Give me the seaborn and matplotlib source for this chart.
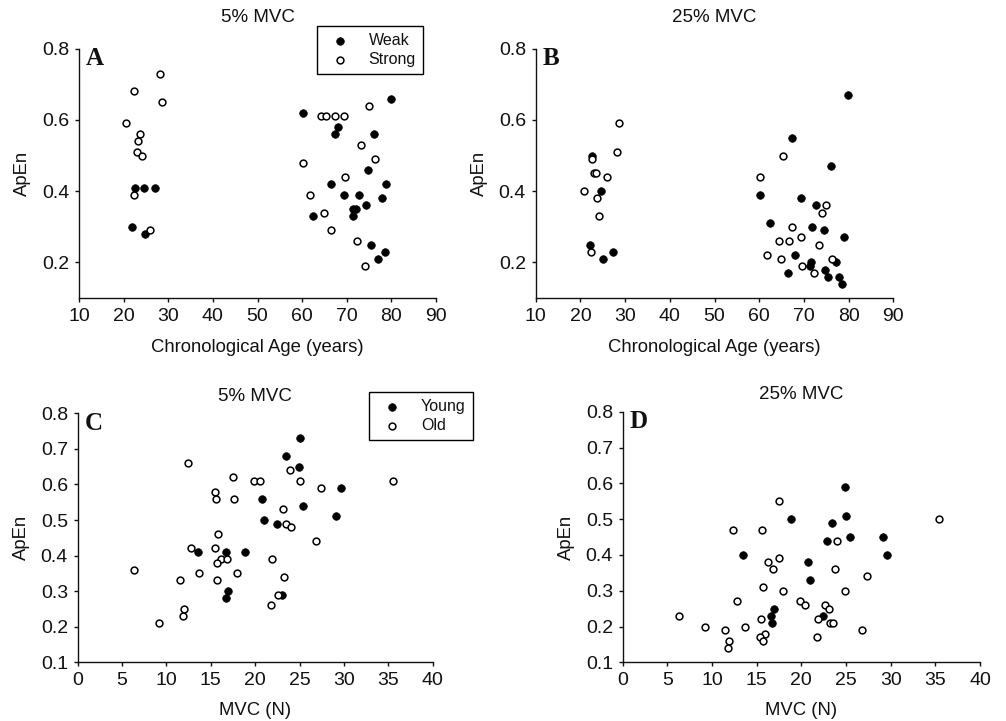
import matplotlib
matplotlib.use("Agg")
import matplotlib.pyplot as plt
import seaborn as sns
import pandas as pd

# ---------------- Panel A: 5% MVC vs age ----------------
a_weak_age = [22.5, 24.6, 27.0, 21.9, 24.9, 60.1, 68.0, 67.3, 76.2, 79.9, 74.7, 66.5,
              78.9, 69.4, 72.7, 77.8, 74.4, 71.3, 72.0, 71.3, 62.5, 75.4, 78.6, 77.1]
a_weak_apen = [0.41, 0.41, 0.41, 0.30, 0.28, 0.62, 0.58, 0.56, 0.56, 0.66, 0.46, 0.42,
               0.42, 0.39, 0.39, 0.38, 0.36, 0.35, 0.35, 0.33, 0.33, 0.25, 0.23, 0.21]
a_strong_age = [28.1, 22.4, 28.5, 20.6, 23.7, 23.2, 23.0, 24.1, 22.3, 25.8, 64.2, 65.3,
                67.4, 69.4, 74.9, 73.3, 76.4, 60.1, 69.6, 61.8, 64.9, 66.5, 72.3, 74.2]
a_strong_apen = [0.73, 0.68, 0.65, 0.59, 0.56, 0.54, 0.51, 0.50, 0.39, 0.29, 0.61, 0.61,
                 0.61, 0.61, 0.64, 0.53, 0.49, 0.48, 0.44, 0.39, 0.34, 0.29, 0.26, 0.19]

# ---------------- Panel B: 25% MVC vs age ----------------
b_weak_age = [22.6, 24.7, 22.1, 27.2, 25.1, 79.9, 67.3, 76.1, 60.2, 69.4, 72.7, 62.5,
              71.9, 74.4, 78.9, 67.9, 71.5, 71.3, 77.2, 74.7, 66.5, 75.5, 77.8, 78.6]
b_weak_apen = [0.50, 0.40, 0.25, 0.23, 0.21, 0.67, 0.55, 0.47, 0.39, 0.38, 0.36, 0.31,
               0.30, 0.29, 0.27, 0.22, 0.20, 0.19, 0.20, 0.18, 0.17, 0.16, 0.16, 0.14]
b_strong_age = [28.6, 28.2, 22.5, 23.1, 23.4, 25.9, 20.7, 23.7, 24.2, 22.4, 65.3, 60.2,
                75.0, 74.1, 67.4, 69.4, 64.4, 66.6, 73.4, 61.8, 64.9, 76.3, 69.6, 72.3]
b_strong_apen = [0.59, 0.51, 0.49, 0.45, 0.45, 0.44, 0.40, 0.38, 0.33, 0.23, 0.50, 0.44,
                 0.36, 0.34, 0.30, 0.27, 0.26, 0.26, 0.25, 0.22, 0.21, 0.21, 0.19, 0.17]

# ---------------- Panel C: 5% MVC vs MVC force ----------------
c_young_mvc = [25.1, 23.5, 24.9, 29.7, 20.8, 25.4, 29.1, 21.0, 22.5, 13.6, 16.7, 18.8,
               16.9, 16.7, 23.0]
c_young_apen = [0.73, 0.68, 0.65, 0.59, 0.56, 0.54, 0.51, 0.50, 0.49, 0.41, 0.41, 0.41,
                0.30, 0.28, 0.29]
c_old_mvc = [12.4, 17.5, 19.9, 20.5, 23.9, 25.0, 35.5, 27.4, 15.5, 15.6, 17.6, 23.1,
             23.5, 24.0, 15.8, 26.8, 12.8, 15.5, 16.2, 16.8, 21.9, 15.7, 6.3, 13.7,
             18.0, 23.3, 11.5, 15.7, 22.6, 21.8, 12.0, 11.9, 9.2]
c_old_apen = [0.66, 0.62, 0.61, 0.61, 0.64, 0.61, 0.61, 0.59, 0.58, 0.56, 0.56, 0.53,
              0.49, 0.48, 0.46, 0.44, 0.42, 0.42, 0.39, 0.39, 0.39, 0.38, 0.36, 0.35,
              0.35, 0.34, 0.33, 0.33, 0.29, 0.26, 0.25, 0.23, 0.21]

# ---------------- Panel D: 25% MVC vs MVC force ----------------
d_young_mvc = [24.9, 18.8, 25.0, 23.4, 25.4, 29.1, 22.9, 13.5, 29.6, 20.8, 21.0, 16.9,
               16.6, 22.4, 16.7]
d_young_apen = [0.59, 0.50, 0.51, 0.49, 0.45, 0.45, 0.44, 0.40, 0.40, 0.38, 0.33, 0.25,
                0.23, 0.23, 0.21]
d_old_mvc = [17.5, 35.4, 12.3, 15.6, 24.0, 17.5, 16.3, 16.8, 23.8, 27.4, 15.7, 18.0,
             24.9, 12.8, 19.9, 20.4, 22.6, 23.1, 6.3, 15.5, 21.9, 9.2, 13.7, 23.2,
             23.5, 11.5, 26.8, 15.9, 15.4, 21.8, 11.9, 15.7, 11.8]
d_old_apen = [0.55, 0.50, 0.47, 0.47, 0.44, 0.39, 0.38, 0.36, 0.36, 0.34, 0.31, 0.30,
              0.30, 0.27, 0.27, 0.26, 0.26, 0.25, 0.23, 0.22, 0.22, 0.20, 0.20, 0.21,
              0.21, 0.19, 0.19, 0.18, 0.17, 0.17, 0.16, 0.16, 0.14]

panel_letters = ["A", "B", "C", "D"]
panel_titles = ["5% MVC", "25% MVC", "5% MVC", "25% MVC"]
age_ticks = [10, 20, 30, 40, 50, 60, 70, 80, 90]
age_yticks = [0.2, 0.4, 0.6, 0.8]
mvc_ticks = [0, 5, 10, 15, 20, 25, 30, 35, 40]
mvc_yticks = [0.1, 0.2, 0.3, 0.4, 0.5, 0.6, 0.7, 0.8]

sns.set_theme(style="ticks")
plt.rcParams['font.family'] = ['Liberation Sans', 'DejaVu Sans']
plt.rcParams['axes.linewidth'] = 1.0
plt.rcParams['xtick.major.width'] = 1.0
plt.rcParams['ytick.major.width'] = 1.0
plt.rcParams['text.color'] = '#111111'
plt.rcParams['axes.labelcolor'] = '#111111'
plt.rcParams['axes.edgecolor'] = '#111111'

W, H = 1006, 721
fig = plt.figure(figsize=(W / 100, H / 100), dpi=100)

def rect(l, t, r, b):
    return [l / W, 1 - b / H, (r - l) / W, (b - t) / H]

axA = fig.add_axes(rect(79, 48.7, 436, 298))
axB = fig.add_axes(rect(535.7, 48.7, 893.3, 298))
axC = fig.add_axes(rect(77.7, 413.3, 432.7, 662.3))
axD = fig.add_axes(rect(622.7, 411.7, 980, 662.3))

def draw(ax, fx, fy, ox, oy, flab, olab):
    sns.scatterplot(x=fx, y=fy, ax=ax, color="black", edgecolor="black",
                    s=30, linewidth=0.5, label=flab, zorder=3)
    sns.scatterplot(x=ox, y=oy, ax=ax, color="white", edgecolor="black",
                    s=24, linewidth=1.1, label=olab, zorder=3)

draw(axA, a_weak_age, a_weak_apen, a_strong_age, a_strong_apen, "Weak", "Strong")
draw(axB, b_weak_age, b_weak_apen, b_strong_age, b_strong_apen, "Weak", "Strong")
draw(axC, c_young_mvc, c_young_apen, c_old_mvc, c_old_apen, "Young", "Old")
draw(axD, d_young_mvc, d_young_apen, d_old_mvc, d_old_apen, "Young", "Old")

for ax in (axA, axB):
    ax.set_xlim(10, 90)
    ax.set_ylim(0.1, 0.8)
    ax.set_xticks(age_ticks)
    ax.set_yticks(age_yticks)
    ax.set_yticklabels([f"{v:.1f}" for v in age_yticks])
    ax.set_xlabel("Chronological Age (years)", fontsize=13.3, labelpad=10)
for ax in (axC, axD):
    ax.set_xlim(0, 40)
    ax.set_ylim(0.1, 0.8)
    ax.set_xticks(mvc_ticks)
    ax.set_yticks(mvc_yticks)
    ax.set_yticklabels([f"{v:.1f}" for v in mvc_yticks])
    ax.set_xlabel("MVC (N)", fontsize=13.3, labelpad=9)

for i, ax in enumerate((axA, axB, axC, axD)):
    sns.despine(ax=ax)
    ax.tick_params(axis="both", direction="out", length=3, width=1,
                   labelsize=14, pad=4, colors="#111111")
    ax.set_ylabel("ApEn", fontsize=13.3, labelpad=8)
    pad = 19 if i < 2 else 9
    ax.set_title(panel_titles[i], fontsize=13.5, pad=pad)
    ax.text(0.02, 1.005, panel_letters[i], transform=ax.transAxes,
            fontsize=18, fontweight="bold", family="Liberation Serif",
            ha="left", va="top")
    if ax.get_legend() is not None:
        ax.get_legend().remove()

def add_legend(ax, x0, y0):
    h, l = ax.get_legend_handles_labels()
    leg = ax.legend(h, l, loc="upper left", bbox_to_anchor=(x0 / W, 1 - y0 / H),
                    bbox_transform=fig.transFigure, fontsize=11.5, frameon=True,
                    fancybox=False, edgecolor="black", framealpha=1,
                    borderpad=0.45, labelspacing=0.25, handletextpad=0.8,
                    handlelength=2.0, borderaxespad=0)
    leg.get_frame().set_linewidth(1.0)

add_legend(axA, 316.7, 26)
add_legend(axC, 369, 391.7)

fig.savefig("out.png", dpi=100)
